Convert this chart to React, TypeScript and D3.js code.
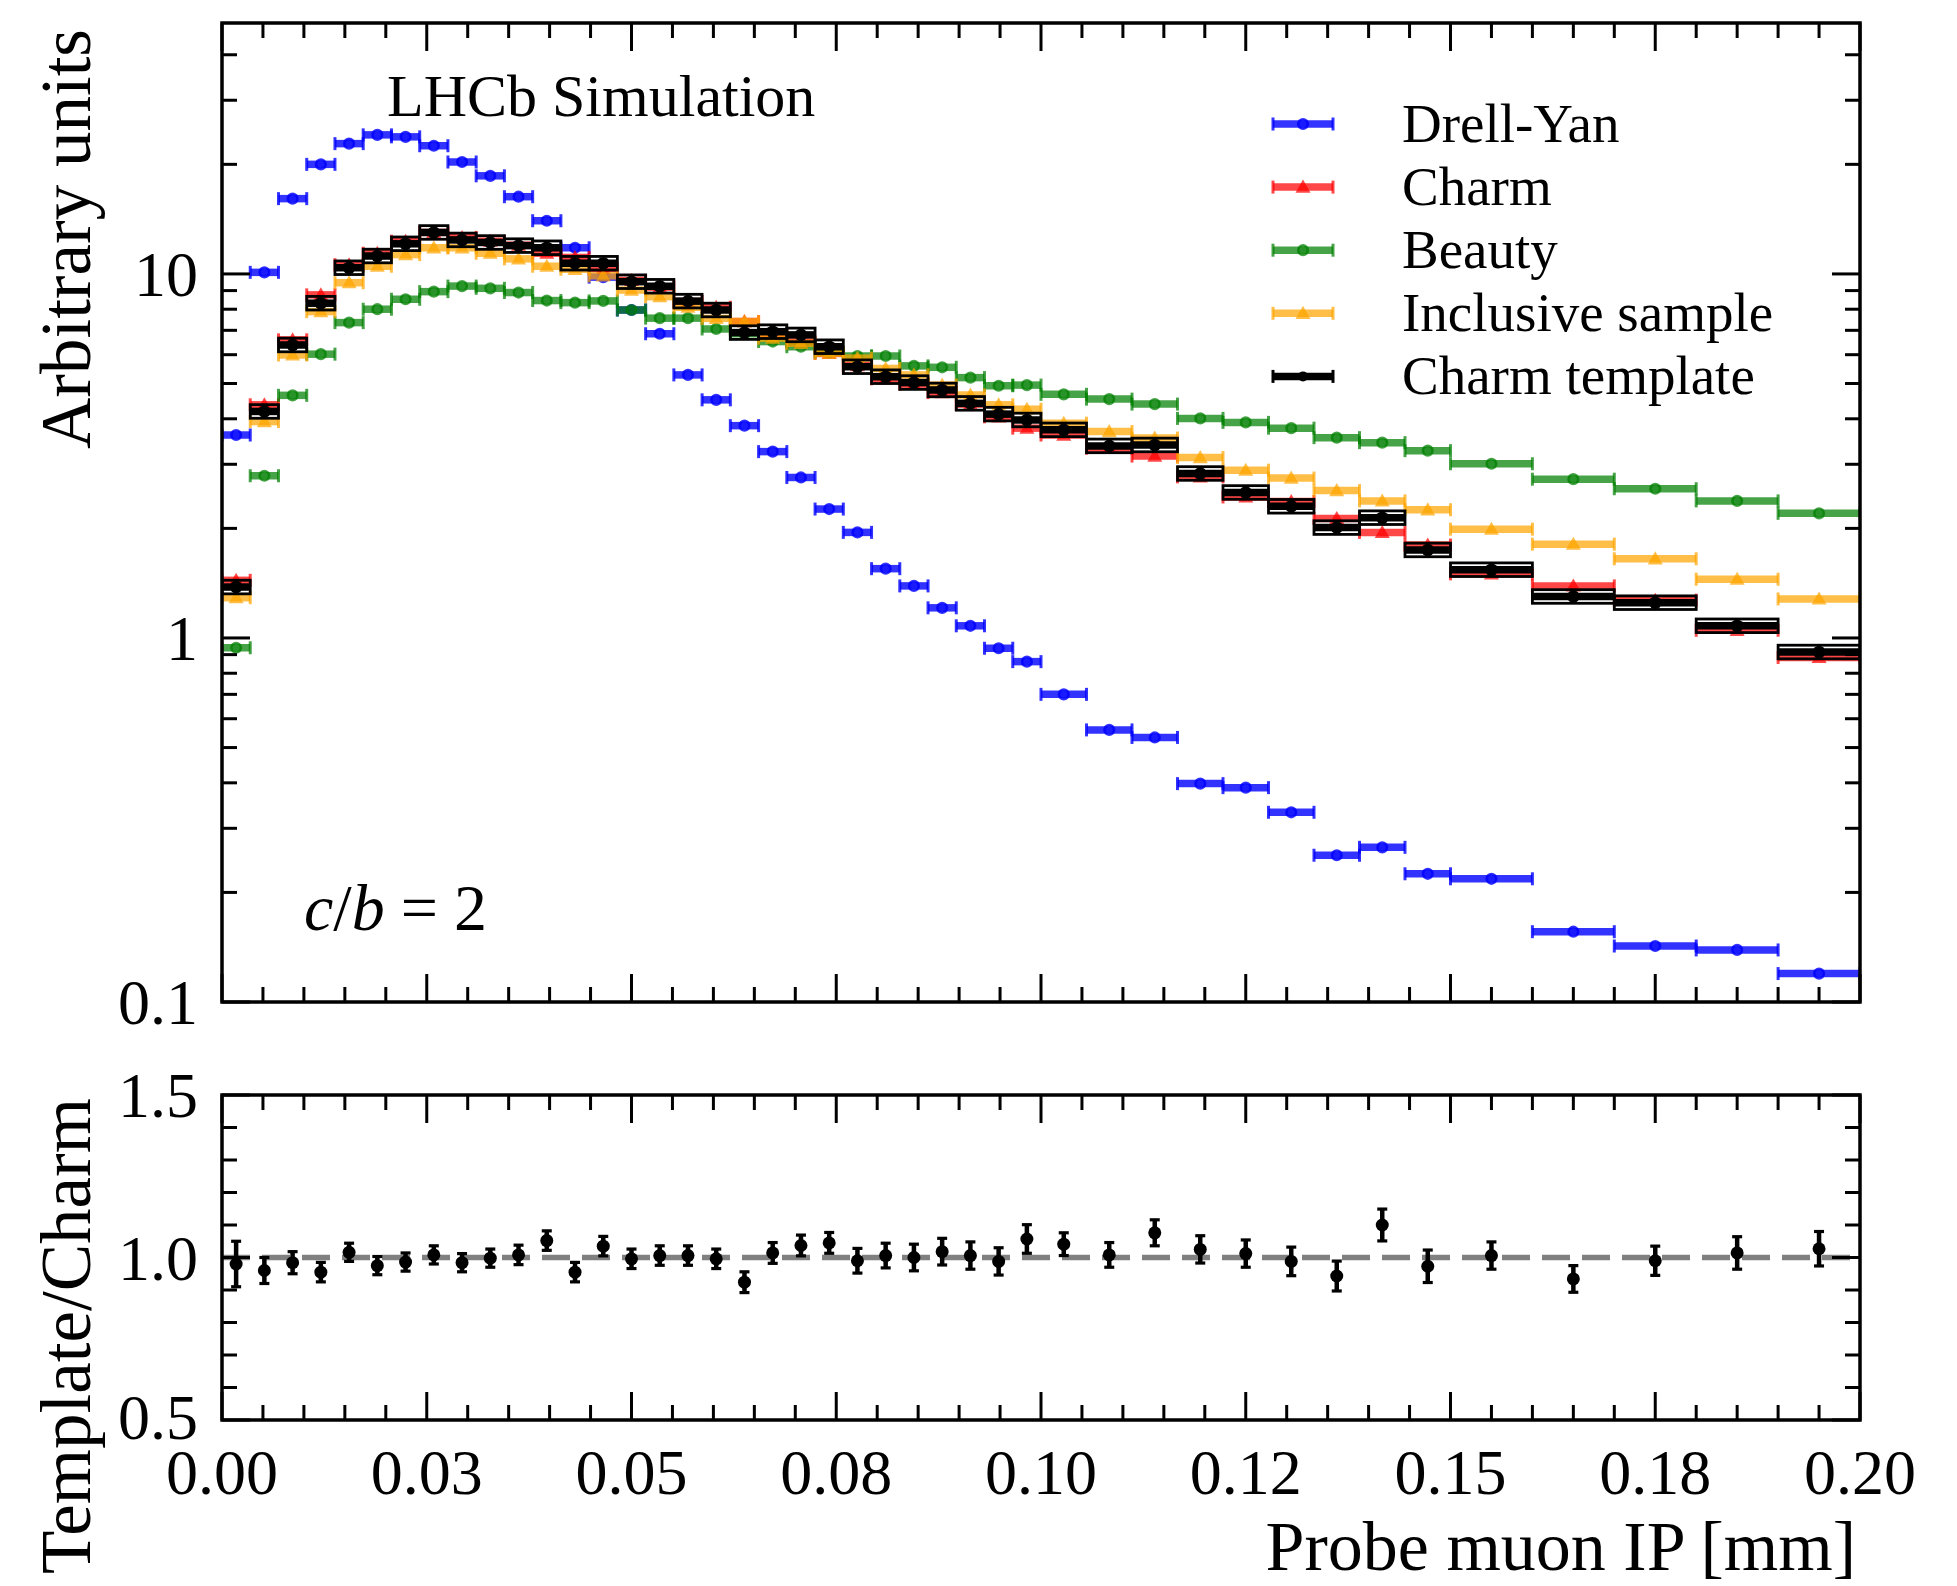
import React from 'react';
import * as d3 from 'd3';

// ---------------- data ----------------
const binEdges = [
  0, 0.003448, 0.006897, 0.010345, 0.013793, 0.017241, 0.02069, 0.024138, 0.027586, 0.031034,
  0.034483, 0.037931, 0.041379, 0.044828, 0.048276, 0.051724, 0.055172, 0.058621, 0.062069, 0.065517,
  0.068966, 0.072414, 0.075862, 0.07931, 0.082759, 0.086207, 0.089655, 0.093103, 0.096552, 0.1,
  0.105556, 0.111111, 0.116667, 0.122222, 0.127778, 0.133333, 0.138889, 0.144444, 0.15,
  0.16, 0.17, 0.18, 0.19, 0.2,
];

const drellYan = [
  3.61, 10.1, 16.1, 20.0, 22.8, 24.1, 23.8, 22.5, 20.3, 18.6,
  16.3, 14.0, 11.8, 9.8, 7.96, 6.85, 5.28, 4.51, 3.83, 3.25,
  2.76, 2.26, 1.95, 1.55, 1.39, 1.21, 1.08, 0.937, 0.861, 0.70,
  0.559, 0.533, 0.398, 0.388, 0.332, 0.253, 0.266, 0.225, 0.218,
  0.156, 0.1425, 0.139, 0.1197,
];

const charm = [
  1.44, 4.37, 6.59, 8.76, 10.6, 11.4, 12.3, 13.0, 12.6, 12.3,
  12.0, 11.4, 11.1, 10.35, 9.6, 9.2, 8.4, 8.1, 7.4, 6.8,
  6.5, 6.05, 5.6, 5.15, 4.98, 4.72, 4.39, 4.05, 3.77, 3.61,
  3.32, 3.16, 2.77, 2.44, 2.37, 2.13, 1.95, 1.8, 1.5,
  1.39, 1.27, 1.05, 0.884,
];

const beauty = [
  0.94, 2.79, 4.64, 6.02, 7.35, 8.0, 8.52, 8.94, 9.26, 9.13,
  8.89, 8.45, 8.34, 8.43, 7.96, 7.56, 7.56, 7.06, 6.85, 6.52,
  6.31, 6.1, 5.95, 5.95, 5.59, 5.54, 5.19, 4.93, 4.95, 4.67,
  4.53, 4.39, 4.01, 3.91, 3.77, 3.55, 3.44, 3.27, 3.01,
  2.73, 2.57, 2.38, 2.2,
];

const inclusive = [
  1.29, 3.93, 5.99, 7.88, 9.46, 10.5, 11.3, 11.8, 11.8, 11.4,
  11.0, 10.5, 10.3, 9.88, 9.03, 8.66, 8.1, 7.55, 7.4, 6.66,
  6.45, 6.05, 5.87, 5.5, 5.28, 4.95, 4.65, 4.37, 4.25, 3.89,
  3.69, 3.54, 3.13, 2.89, 2.75, 2.54, 2.38, 2.25, 1.99,
  1.81, 1.65, 1.45, 1.28,
];

const charmTemplate = [
  1.38, 4.19, 6.38, 8.31, 10.4, 11.2, 12.1, 13.0, 12.4, 12.2,
  11.96, 11.8, 10.7, 10.7, 9.52, 9.25, 8.42, 7.96, 6.9, 6.94,
  6.8, 6.31, 5.56, 5.22, 5.03, 4.8, 4.41, 4.12, 3.97, 3.73,
  3.37, 3.39, 2.83, 2.51, 2.3, 2.01, 2.14, 1.745, 1.54,
  1.3, 1.25, 1.08, 0.915,
];

const ratio = [
  0.98, 0.96, 0.984, 0.955, 1.016, 0.975, 0.986, 1.008, 0.984, 0.998,
  1.008, 1.052, 0.955, 1.035, 0.996, 1.006, 1.006, 0.996, 0.924, 1.014,
  1.037, 1.045, 0.99, 1.006, 1.0, 1.018, 1.006, 0.988, 1.057, 1.041,
  1.008, 1.076, 1.025, 1.012, 0.988, 0.943, 1.1, 0.973, 1.006,
  0.934, 0.99, 1.014, 1.027,
];

const ratioErr = [
  0.07, 0.04, 0.034, 0.03, 0.028, 0.028, 0.028, 0.028, 0.028, 0.028,
  0.03, 0.03, 0.03, 0.03, 0.03, 0.03, 0.03, 0.03, 0.032, 0.032,
  0.032, 0.032, 0.038, 0.038, 0.041, 0.041, 0.042, 0.042, 0.044, 0.035,
  0.038, 0.04, 0.042, 0.042, 0.044, 0.046, 0.049, 0.05, 0.042,
  0.041, 0.045, 0.05, 0.053,
];

const xTickValues = [0, 0.025, 0.05, 0.075, 0.1, 0.125, 0.15, 0.175, 0.2];
const xTickLabels = ['0.00', '0.03', '0.05', '0.08', '0.10', '0.12', '0.15', '0.18', '0.20'];
const mainYTickValues = [0.1, 1, 10];
const mainYTickLabels = ['0.1', '1', '10'];
const ratioYTickValues = [0.5, 1.0, 1.5];
const ratioYTickLabels = ['0.5', '1.0', '1.5'];

const seriesNames = ['Drell-Yan', 'Charm', 'Beauty', 'Inclusive sample', 'Charm template'];

// ---------------- layout ----------------
const W = 1957;
const H = 1586;
const L = 222;
const R = 1860;
const MT = 23;
const MB = 1002;
const RT = 1095;
const RB = 1420;
const FONT = "'Liberation Serif', 'Times New Roman', 'DejaVu Serif', serif";

const x = d3.scaleLinear().domain([0, 0.2]).range([L, R]);
const yMain = d3.scaleLog().domain([0.1, 48.9]).range([MB, MT]);
const yRatio = d3.scaleLinear().domain([0.5, 1.5]).range([RB, RT]);

type Marker = 'circle' | 'triangle' | 'dot';
interface Series { name: string; values: number[]; color: string; opacity: number; marker: Marker; }

const series: Series[] = [
  { name: seriesNames[0], values: drellYan, color: '#0000ff', opacity: 0.8, marker: 'circle' },
  { name: seriesNames[1], values: charm, color: '#ff0000', opacity: 0.72, marker: 'triangle' },
  { name: seriesNames[2], values: beauty, color: '#008000', opacity: 0.72, marker: 'circle' },
  { name: seriesNames[3], values: inclusive, color: '#ffa500', opacity: 0.72, marker: 'triangle' },
];

const LW = 7.5;
const CAP = 6.5;

function MarkerShape({ type, cx, cy, color, opacity }: { type: Marker; cx: number; cy: number; color: string; opacity: number }) {
  if (type === 'circle') {
    return <circle cx={cx} cy={cy} r={4.8} fill={color} fillOpacity={opacity * 0.6} stroke={color} strokeOpacity={opacity} strokeWidth={2.6} />;
  }
  if (type === 'triangle') {
    const s = 7.5;
    const p = `${cx},${cy - s} ${cx - s},${cy + s * 0.75} ${cx + s},${cy + s * 0.75}`;
    return <polygon points={p} fill={color} fillOpacity={opacity} />;
  }
  return <circle cx={cx} cy={cy} r={6} fill="#000" />;
}

function SeriesMarks({ s }: { s: Series }) {
  return (
    <g>
      {s.values.map((v, i) => {
        const x0 = x(binEdges[i]);
        const x1 = x(binEdges[i + 1]);
        const cy = yMain(v);
        const cx = (x0 + x1) / 2;
        return (
          <g key={i}>
            <line x1={x0} x2={x1} y1={cy} y2={cy} stroke={s.color} strokeOpacity={s.opacity} strokeWidth={LW} />
            <line x1={x0} x2={x0} y1={cy - CAP} y2={cy + CAP} stroke={s.color} strokeOpacity={s.opacity} strokeWidth={3} />
            <line x1={x1} x2={x1} y1={cy - CAP} y2={cy + CAP} stroke={s.color} strokeOpacity={s.opacity} strokeWidth={3} />
            <MarkerShape type={s.marker} cx={cx} cy={cy} color={s.color} opacity={s.opacity} />
          </g>
        );
      })}
    </g>
  );
}

function TemplateMarks() {
  return (
    <g>
      {charmTemplate.map((v, i) => {
        const x0 = x(binEdges[i]);
        const x1 = x(binEdges[i + 1]);
        const cy = yMain(v);
        const cx = (x0 + x1) / 2;
        return (
          <g key={i}>
            <rect x={x0} y={cy - 6.8} width={x1 - x0} height={13.6} fill="none" stroke="#000" strokeWidth={2.8} />
            <line x1={x0} x2={x1} y1={cy} y2={cy} stroke="#000" strokeWidth={7.5} />
            <circle cx={cx} cy={cy} r={6.3} fill="#000" />
          </g>
        );
      })}
    </g>
  );
}

function Ticks({ top, bottom, yTicksMajor, yTicksMinor, yScale }: {
  top: number; bottom: number; yTicksMajor: number[]; yTicksMinor: number[]; yScale: (v: number) => number;
}) {
  const MAJ = 28;
  const MIN = 15;
  const xMinor = d3.range(0, 0.2001, 0.005).filter((t) => !xTickValues.some((m) => Math.abs(m - t) < 1e-9));
  const els: React.ReactNode[] = [];
  xTickValues.forEach((t, i) => {
    const px = x(t);
    els.push(<line key={`xb${i}`} x1={px} x2={px} y1={bottom} y2={bottom - MAJ} />);
    els.push(<line key={`xt${i}`} x1={px} x2={px} y1={top} y2={top + MAJ} />);
  });
  xMinor.forEach((t, i) => {
    const px = x(t);
    els.push(<line key={`xmb${i}`} x1={px} x2={px} y1={bottom} y2={bottom - MIN} />);
    els.push(<line key={`xmt${i}`} x1={px} x2={px} y1={top} y2={top + MIN} />);
  });
  yTicksMajor.forEach((t, i) => {
    const py = yScale(t);
    els.push(<line key={`yl${i}`} x1={L} x2={L + MAJ} y1={py} y2={py} />);
    els.push(<line key={`yr${i}`} x1={R} x2={R - MAJ} y1={py} y2={py} />);
  });
  yTicksMinor.forEach((t, i) => {
    const py = yScale(t);
    els.push(<line key={`yml${i}`} x1={L} x2={L + MIN} y1={py} y2={py} />);
    els.push(<line key={`ymr${i}`} x1={R} x2={R - MIN} y1={py} y2={py} />);
  });
  return <g stroke="#000" strokeWidth={3}>{els}</g>;
}

export default function App() {
  const logMinor: number[] = [];
  [0.1, 1, 10].forEach((d) => {
    for (let k = 2; k <= 9; k++) {
      const v = k * d;
      if (v <= 48.9) logMinor.push(v);
    }
  });
  const ratioMinor = d3.range(0.6, 1.45, 0.1).filter((v) => Math.abs(v - 1.0) > 1e-6);

  const legendY0 = 124;
  const legendDY = 63.1;
  const legendStyles = [
    ...series.map((s) => ({ color: s.color, opacity: s.opacity, marker: s.marker })),
    { color: '#000', opacity: 1, marker: 'dot' as Marker },
  ];

  return (
    <svg width={W} height={H} style={{ position: 'absolute', left: 0, top: 0, background: '#fff' }} fontFamily={FONT}>
      <rect x={0} y={0} width={W} height={H} fill="#fff" />

      {/* ---------- main panel ---------- */}
      <defs>
        <clipPath id="mainClip"><rect x={L} y={MT} width={R - L} height={MB - MT} /></clipPath>
      </defs>
      <g clipPath="url(#mainClip)">
        {series.map((s) => <SeriesMarks key={s.name} s={s} />)}
        <TemplateMarks />
      </g>
      <Ticks top={MT} bottom={MB} yTicksMajor={mainYTickValues} yTicksMinor={logMinor} yScale={(v) => yMain(v)} />
      <rect x={L} y={MT} width={R - L} height={MB - MT} fill="none" stroke="#000" strokeWidth={3.5} />

      {mainYTickValues.map((t, i) => (
        <text key={`myl${i}`} x={198} y={yMain(t) + 22} textAnchor="end" fontSize={64}>{mainYTickLabels[i]}</text>
      ))}

      <text x={387} y={116} fontSize={60}>LHCb Simulation</text>
      <text x={304} y={930} fontSize={66}>
        <tspan fontStyle="italic">c</tspan>
        <tspan>/</tspan>
        <tspan fontStyle="italic">b</tspan>
        <tspan dx={16}>=</tspan>
        <tspan dx={16}>2</tspan>
      </text>

      {/* legend */}
      {seriesNames.map((name, i) => {
        const cy = legendY0 + i * legendDY;
        const st = legendStyles[i];
        const hx0 = 1273;
        const hx1 = 1333;
        return (
          <g key={name}>
            <line x1={hx0} x2={hx1} y1={cy} y2={cy} stroke={st.color} strokeOpacity={st.opacity} strokeWidth={LW} />
            <line x1={hx0} x2={hx0} y1={cy - CAP} y2={cy + CAP} stroke={st.color} strokeOpacity={st.opacity} strokeWidth={3} />
            <line x1={hx1} x2={hx1} y1={cy - CAP} y2={cy + CAP} stroke={st.color} strokeOpacity={st.opacity} strokeWidth={3} />
            {st.marker === 'dot'
              ? <circle cx={(hx0 + hx1) / 2} cy={cy} r={5} fill="#000" />
              : <MarkerShape type={st.marker} cx={(hx0 + hx1) / 2} cy={cy} color={st.color} opacity={st.opacity} />}
            <text x={1402} y={cy + 18} fontSize={55}>{name}</text>
          </g>
        );
      })}

      <text transform={`translate(90, 29) rotate(-90)`} textAnchor="end" fontSize={71}>Arbitrary units</text>

      {/* ---------- ratio panel ---------- */}
      <line x1={L} x2={R} y1={yRatio(1)} y2={yRatio(1)} stroke="#808080" strokeWidth={5.5} strokeDasharray="28 12" />
      <Ticks top={RT} bottom={RB} yTicksMajor={ratioYTickValues} yTicksMinor={ratioMinor} yScale={(v) => yRatio(v)} />
      <g>
        {ratio.map((r, i) => {
          const cx = x((binEdges[i] + binEdges[i + 1]) / 2);
          const yt = yRatio(r + ratioErr[i]);
          const yb = yRatio(r - ratioErr[i]);
          return (
            <g key={i}>
              <line x1={cx} x2={cx} y1={yt} y2={yb} stroke="#000" strokeWidth={4.5} />
              <line x1={cx - 5} x2={cx + 5} y1={yt} y2={yt} stroke="#000" strokeWidth={3.2} />
              <line x1={cx - 5} x2={cx + 5} y1={yb} y2={yb} stroke="#000" strokeWidth={3.2} />
              <circle cx={cx} cy={yRatio(r)} r={6.5} fill="#000" />
            </g>
          );
        })}
      </g>
      <rect x={L} y={RT} width={R - L} height={RB - RT} fill="none" stroke="#000" strokeWidth={3.5} />

      {ratioYTickValues.map((t, i) => (
        <text key={`ryl${i}`} x={198} y={yRatio(t) + 22 - (i === 0 ? 3 : 0)} textAnchor="end" fontSize={64}>{ratioYTickLabels[i]}</text>
      ))}
      {xTickValues.map((t, i) => (
        <text key={`xl${i}`} x={x(t)} y={1494} textAnchor="middle" fontSize={64}>{xTickLabels[i]}</text>
      ))}

      <text x={1856} y={1570} textAnchor="end" fontSize={70}>Probe muon IP [mm]</text>
      <text transform={`translate(90, 1098) rotate(-90)`} textAnchor="end" fontSize={71}>Template/Charm</text>
    </svg>
  );
}
